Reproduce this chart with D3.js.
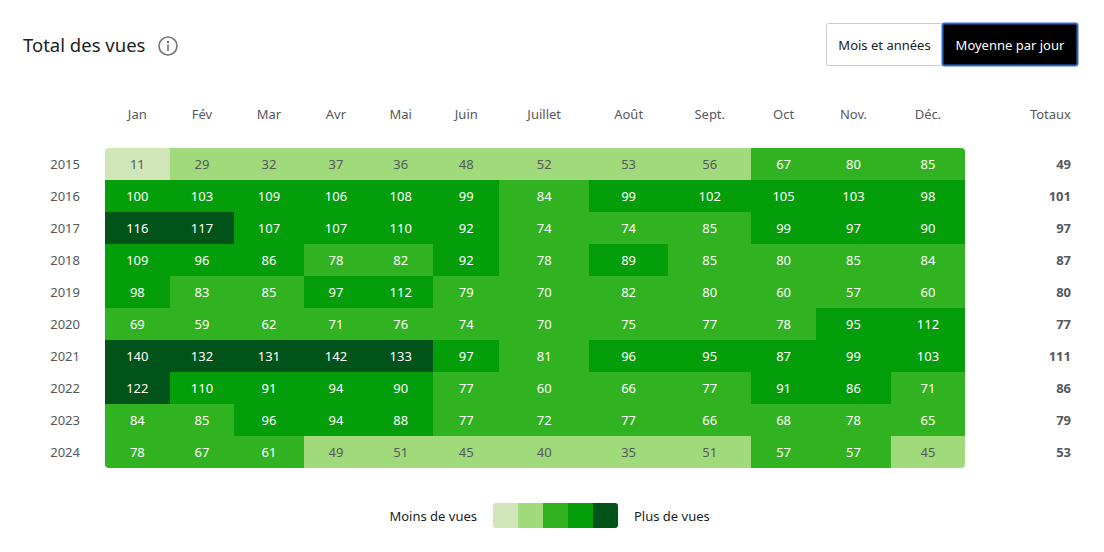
<!DOCTYPE html>
<html>
<head>
<meta charset="utf-8">
<script src="https://cdn.jsdelivr.net/npm/d3@7"></script>
<style>
  body { margin: 0; background: #fff; }
  svg { font-family: "Noto Sans", sans-serif; display: block; }
</style>
</head>
<body>
<svg id="chart" width="1104" height="552"></svg>
<script>
// data (average views per day)
var months = ["Jan", "Fév", "Mar", "Avr", "Mai", "Juin", "Juillet", "Août", "Sept.", "Oct", "Nov.", "Déc."];
var years = [2015, 2016, 2017, 2018, 2019, 2020, 2021, 2022, 2023, 2024];
var v2015 = [11, 29, 32, 37, 36, 48, 52, 53, 56, 67, 80, 85];
var v2016 = [100, 103, 109, 106, 108, 99, 84, 99, 102, 105, 103, 98];
var v2017 = [116, 117, 107, 107, 110, 92, 74, 74, 85, 99, 97, 90];
var v2018 = [109, 96, 86, 78, 82, 92, 78, 89, 85, 80, 85, 84];
var v2019 = [98, 83, 85, 97, 112, 79, 70, 82, 80, 60, 57, 60];
var v2020 = [69, 59, 62, 71, 76, 74, 70, 75, 77, 78, 95, 112];
var v2021 = [140, 132, 131, 142, 133, 97, 81, 96, 95, 87, 99, 103];
var v2022 = [122, 110, 91, 94, 90, 77, 60, 66, 77, 91, 86, 71];
var v2023 = [84, 85, 96, 94, 88, 77, 72, 77, 66, 68, 78, 65];
var v2024 = [78, 67, 61, 49, 51, 45, 40, 35, 51, 57, 57, 45];
var totals = [49, 101, 97, 87, 80, 77, 111, 86, 79, 53];
var rows = [v2015, v2016, v2017, v2018, v2019, v2020, v2021, v2022, v2023, v2024];

var binEdges = [20, 56.5, 85.5, 113.5];
var palette = ["#d0e6b8", "#a0da7a", "#31b221", "#049e0a", "#005419"];

//=================== SETUP ====================================
var svg = d3.select("#chart");
var gridLeft = 105, gridRight = 965, gridTop = 148, gridBottom = 468;
var inkDark = "#202122", inkGrey = "#54595d";
var fs = 13;

var color = d3.scaleThreshold().domain(binEdges).range(palette);

var cells = [];
rows.forEach(function (r, i) {
    r.forEach(function (v, j) {
        cells.push({ year: years[i], month: months[j], value: v });
    });
});

// measure text to size columns like an auto-layout table
var probe = svg.append("text").attr("font-size", fs).attr("visibility", "hidden");
function textW(s) { probe.text(s); return probe.node().getComputedTextLength(); }
var contentW = months.map(function (m, j) {
    var w = textW(m);
    rows.forEach(function (r) { w = Math.max(w, textW(String(r[j]))); });
    return w + 7;
});
probe.remove();
var sumW = d3.sum(contentW);
var colW = contentW.map(function (w) { return w / sumW * (gridRight - gridLeft); });
var colStart = [];
colW.reduce(function (acc, w) { colStart.push(acc); return acc + w; }, gridLeft);

var x = d3.scaleOrdinal().domain(months).range(colStart);
var xw = d3.scaleOrdinal().domain(months).range(colW);
var y = d3.scaleBand().domain(years).range([gridTop, gridBottom]);

//=================== TITLE & BUTTONS ====================================
svg.append("text")
    .attr("x", 23).attr("y", 46)
    .attr("dy", "0.35em")
    .attr("font-size", 18.5)
    .attr("fill", inkDark)
    .text("Total des vues");

var info = svg.append("g").attr("transform", "translate(168,46)");
info.append("circle").attr("r", 9).attr("fill", "none")
    .attr("stroke", "#72777d").attr("stroke-width", 1.6);
info.append("circle").attr("cx", 0).attr("cy", -4).attr("r", 1.2).attr("fill", "#72777d");
info.append("rect").attr("x", -0.8).attr("y", -1.5).attr("width", 1.6).attr("height", 6.5).attr("fill", "#72777d");

svg.append("rect")
    .attr("x", 826.5).attr("y", 23.5).attr("width", 116).attr("height", 42)
    .attr("rx", 2).attr("fill", "#fff").attr("stroke", "#c8ccd1");
svg.append("text")
    .attr("x", 884.5).attr("y", 45).attr("dy", "0.35em")
    .attr("text-anchor", "middle").attr("font-size", fs).attr("fill", inkDark)
    .text("Mois et années");
svg.append("rect")
    .attr("x", 942.5).attr("y", 23.5).attr("width", 135).attr("height", 42)
    .attr("rx", 2).attr("fill", "#000").attr("stroke", "#3366cc").attr("stroke-width", 2);
svg.append("text")
    .attr("x", 1010).attr("y", 45).attr("dy", "0.35em")
    .attr("text-anchor", "middle").attr("font-size", fs).attr("fill", "#fff")
    .text("Moyenne par jour");

//=================== HEADERS ====================================
svg.append("g").selectAll("text")
    .data(months)
    .enter().append("text")
    .attr("x", function (d) { return x(d) + xw(d) / 2; })
    .attr("y", 114).attr("dy", "0.35em")
    .attr("text-anchor", "middle").attr("font-size", fs).attr("fill", inkGrey)
    .text(function (d) { return d; });

svg.append("text")
    .attr("x", 1071).attr("y", 114).attr("dy", "0.35em")
    .attr("text-anchor", "end").attr("font-size", fs).attr("fill", inkGrey)
    .text("Totaux");

svg.append("g").selectAll("text")
    .data(years)
    .enter().append("text")
    .attr("x", 80).attr("y", function (d) { return y(d) + y.bandwidth() / 2; })
    .attr("dy", "0.35em")
    .attr("text-anchor", "end").attr("font-size", fs).attr("fill", inkGrey)
    .text(function (d) { return d; });

svg.append("g").selectAll("text")
    .data(totals)
    .enter().append("text")
    .attr("x", 1071).attr("y", function (d, i) { return y(years[i]) + y.bandwidth() / 2; })
    .attr("dy", "0.35em")
    .attr("text-anchor", "end").attr("font-size", fs).attr("font-weight", "bold")
    .attr("fill", inkGrey)
    .text(function (d) { return d; });

//=================== GRID ====================================
svg.append("clipPath").attr("id", "gridClip")
    .append("rect")
    .attr("x", gridLeft).attr("y", gridTop)
    .attr("width", gridRight - gridLeft).attr("height", gridBottom - gridTop)
    .attr("rx", 4);

var grid = svg.append("g").attr("clip-path", "url(#gridClip)");

grid.selectAll("rect")
    .data(cells)
    .enter().append("rect")
    .attr("x", function (d) { return Math.round(x(d.month)); })
    .attr("y", function (d) { return y(d.year); })
    .attr("width", function (d) { return Math.round(x(d.month) + xw(d.month)) - Math.round(x(d.month)) + 1; })
    .attr("height", y.bandwidth() + 1)
    .attr("shape-rendering", "crispEdges")
    .attr("fill", function (d) { return color(d.value); });

svg.append("g").selectAll("text")
    .data(cells)
    .enter().append("text")
    .attr("x", function (d) { return x(d.month) + xw(d.month) / 2; })
    .attr("y", function (d) { return y(d.year) + y.bandwidth() / 2; })
    .attr("dy", "0.35em")
    .attr("text-anchor", "middle").attr("font-size", fs)
    .attr("fill", function (d) { return d.value < binEdges[1] ? inkGrey : "#fff"; })
    .text(function (d) { return d.value; });

//=================== LEGEND ====================================
var lg = d3.scaleBand().domain(d3.range(palette.length)).range([493, 618]);
svg.append("clipPath").attr("id", "legClip")
    .append("rect").attr("x", 493).attr("y", 503).attr("width", 125).attr("height", 25).attr("rx", 3);
svg.append("g").attr("clip-path", "url(#legClip)")
    .selectAll("rect")
    .data(palette)
    .enter().append("rect")
    .attr("x", function (d, i) { return lg(i); })
    .attr("y", 503)
    .attr("width", lg.bandwidth() + 0.5).attr("height", 25)
    .attr("fill", function (d) { return d; });

svg.append("text")
    .attr("x", 477).attr("y", 516).attr("dy", "0.35em")
    .attr("text-anchor", "end").attr("font-size", fs).attr("fill", inkDark)
    .text("Moins de vues");
svg.append("text")
    .attr("x", 634).attr("y", 516).attr("dy", "0.35em")
    .attr("font-size", fs).attr("fill", inkDark)
    .text("Plus de vues");
</script>
</body>
</html>
